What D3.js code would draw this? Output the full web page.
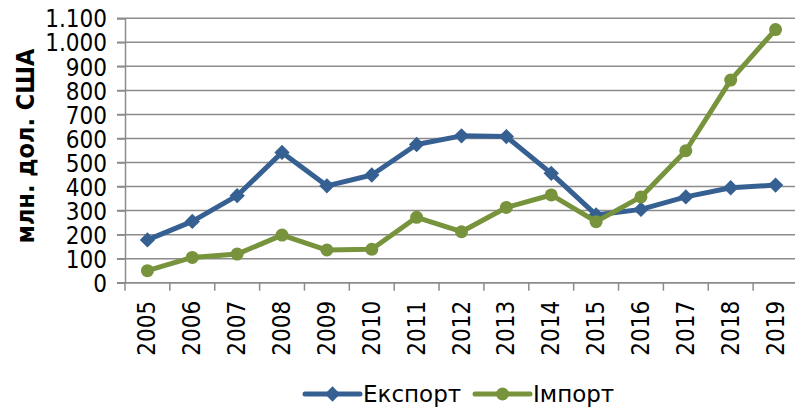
<!DOCTYPE html>
<html>
<head>
<meta charset="utf-8">
<script src="https://cdn.jsdelivr.net/npm/d3@7"></script>
<style>
  body { margin: 0; background: #fff; }
  svg { display: block; }
  text { font-family: "DejaVu Sans Condensed", "DejaVu Sans", sans-serif; fill: #000; }
</style>
</head>
<body>
<svg id="chart" width="795" height="409"></svg>
<script>
// data
const years = ["2005","2006","2007","2008","2009","2010","2011","2012","2013","2014","2015","2016","2017","2018","2019"];
const exportVals = [178, 255, 362, 542, 403, 448, 575, 611, 608, 455, 282, 305, 357, 395, 406];
const importVals = [50, 105, 119, 198, 136, 139, 272, 212, 313, 365, 254, 357, 549, 843, 1053];
const yTicks = [0, 100, 200, 300, 400, 500, 600, 700, 800, 900, 1000, 1100];
const seriesNames = ["Експорт", "Імпорт"];

const blue = "#376092";
const green = "#77933c";
const grid = "#8c8c8c";

const svg = d3.select("#chart");
const margin = { top: 18.3, right: -3, bottom: 126.3, left: 125 };
const width = 795, height = 409;

const x = d3.scaleBand()
  .domain(years)
  .range([margin.left, width - margin.right]);

const y = d3.scaleLinear()
  .domain([0, 1100])
  .range([height - margin.bottom, margin.top]);

const fmt = d => d3.format(",")(d).replace(/,/g, ".");

// gridlines
svg.append("g")
  .selectAll("line")
  .data(yTicks)
  .enter().append("line")
  .attr("x1", margin.left - 8)
  .attr("x2", width)
  .attr("y1", d => y(d))
  .attr("y2", d => y(d))
  .attr("stroke", grid)
  .attr("stroke-width", 1.5);

// y axis
const yAxis = svg.append("g")
  .attr("transform", `translate(${margin.left},0)`)
  .call(d3.axisLeft(y).tickValues(yTicks).tickFormat(fmt).tickSize(8).tickPadding(10));
yAxis.select(".domain").attr("stroke", grid).attr("stroke-width", 1.5);
yAxis.selectAll(".tick line").attr("stroke", grid).attr("stroke-width", 1.5);
yAxis.selectAll("text").style("font-size", "24px").attr("dy", "0.36em");

// x axis: ticks between categories
const xAxisG = svg.append("g")
  .attr("transform", `translate(0,${y(0)})`);
xAxisG.append("line")
  .attr("x1", margin.left - 8).attr("x2", width)
  .attr("stroke", grid).attr("stroke-width", 1.5);
xAxisG.selectAll(".tk")
  .data(years.concat(["end"]))
  .enter().append("line")
  .attr("x1", (d, i) => i < years.length ? x(d) : x(years[years.length - 1]) + x.bandwidth())
  .attr("x2", (d, i) => i < years.length ? x(d) : x(years[years.length - 1]) + x.bandwidth())
  .attr("y1", 0).attr("y2", 8)
  .attr("stroke", grid).attr("stroke-width", 1.5);
xAxisG.selectAll(".lbl")
  .data(years)
  .enter().append("text")
  .attr("transform", d => `translate(${x(d) + x.bandwidth() / 2 + 8},18) rotate(-90)`)
  .attr("text-anchor", "end")
  .style("font-size", "24px")
  .text(d => d);

// y title
svg.append("text")
  .attr("transform", `translate(34,146) rotate(-90)`)
  .attr("text-anchor", "middle")
  .style("font-size", "25px")
  .style("font-weight", "bold")
  .attr("textLength", 195)
  .attr("lengthAdjust", "spacingAndGlyphs")
  .text("млн. дол. США");

const cx = d => x(d) + x.bandwidth() / 2;
const line = d3.line().x(d => cx(d[0])).y(d => y(d[1]));

const exportData = years.map((yr, i) => [yr, exportVals[i]]);
const importData = years.map((yr, i) => [yr, importVals[i]]);

const diamond = d3.symbol().type(d3.symbolDiamond2).size(150);

// export
svg.append("path")
  .datum(exportData)
  .attr("d", line)
  .attr("fill", "none")
  .attr("stroke", blue)
  .attr("stroke-width", 5)
  .attr("stroke-linejoin", "round");
svg.selectAll(".mexp")
  .data(exportData)
  .enter().append("path")
  .attr("transform", d => `translate(${cx(d[0])},${y(d[1])})`)
  .attr("d", diamond)
  .attr("fill", blue);

// import
svg.append("path")
  .datum(importData)
  .attr("d", line)
  .attr("fill", "none")
  .attr("stroke", green)
  .attr("stroke-width", 5)
  .attr("stroke-linejoin", "round");
svg.selectAll(".mimp")
  .data(importData)
  .enter().append("circle")
  .attr("cx", d => cx(d[0]))
  .attr("cy", d => y(d[1]))
  .attr("r", 6.5)
  .attr("fill", green);

// legend
const legend = [
  { name: seriesNames[0], color: blue, x0: 305, sym: "d" },
  { name: seriesNames[1], color: green, x0: 475, sym: "c" }
];
const lg = svg.append("g").attr("transform", "translate(0,394)");
legend.forEach(l => {
  lg.append("line")
    .attr("x1", l.x0).attr("x2", l.x0 + 55)
    .attr("stroke", l.color).attr("stroke-width", 5).attr("stroke-linecap", "round");
  if (l.sym === "d") {
    lg.append("path").attr("transform", `translate(${l.x0 + 27.5},0)`)
      .attr("d", diamond).attr("fill", l.color);
  } else {
    lg.append("circle").attr("cx", l.x0 + 27.5).attr("r", 6.5).attr("fill", l.color);
  }
  lg.append("text")
    .attr("x", l.x0 + 58)
    .attr("dy", "0.36em")
    .style("font-family", "'DejaVu Sans', sans-serif")
    .style("font-size", "23px")
    .text(l.name);
});
</script>
</body>
</html>
